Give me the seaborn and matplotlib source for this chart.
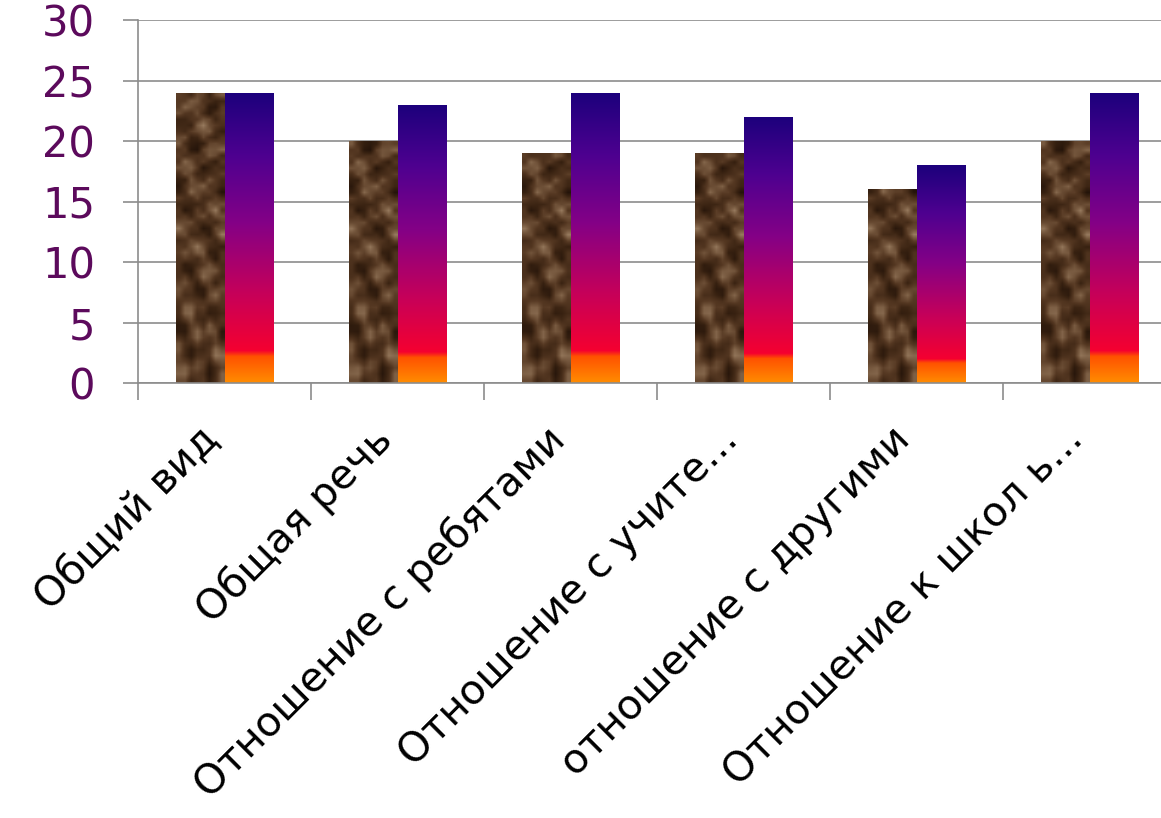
import numpy as np
import pandas as pd
import matplotlib
matplotlib.use("Agg")
import matplotlib.pyplot as plt
import seaborn as sns
from matplotlib.colors import LinearSegmentedColormap
from matplotlib.transforms import ScaledTranslation

categories = ["Общий вид", "Общая речь", "Отношение с ребятами",
              "Отношение с учите...", "отношение с другими", "Отношение к школ ь..."]
series_a = [24, 20, 19, 19, 16, 20]
series_b = [24, 23, 24, 22, 18, 24]

df = pd.DataFrame({
    "cat": categories * 2,
    "val": series_a + series_b,
    "grp": ["a"] * len(categories) + ["b"] * len(categories),
})

sns.set_style("white")
plt.rcParams["font.family"] = ["DejaVu Sans"]

fig = plt.figure(figsize=(11.61, 8.18), dpi=100)
ax = fig.add_axes([138 / 1161, (818 - 383) / 818, 1023 / 1161, 363 / 818])

sns.barplot(data=df, x="cat", y="val", hue="grp", palette=["#5a3a22", "#7a0088"],
            width=0.56, legend=False, ax=ax, errorbar=None, saturation=1)

# textures: brown mottle and orange->red->purple->blue fill
brown = LinearSegmentedColormap.from_list("brown", ["#24140a", "#3a2312", "#553822", "#77593f", "#977a5e"])
grad = LinearSegmentedColormap.from_list("grad", [
    (0.0, "#ff8c00"), (0.09, "#ff5200"), (0.11, "#f50030"),
    (0.3, "#c80058"), (0.55, "#840086"), (0.78, "#4e0090"), (1.0, "#1c007c")])

yy, xx = np.mgrid[0:48, 0:8]
mottle = (np.sin(xx * 0.9 + yy * 0.55) + np.sin(yy * 1.3 - xx * 0.7 + 0.4)
          + 0.7 * np.sin(xx * 2.1 + yy * yy * 0.043) + 0.6 * np.cos(yy * 0.29 + xx * 1.7)
          + 0.4 * np.sin(xx * yy * 0.31))
mottle = (mottle - mottle.min()) / (mottle.max() - mottle.min())
ramp = np.linspace(0, 1, 256).reshape(-1, 1)

n = len(categories)
for i, p in enumerate(ax.patches[:2 * n]):
    x0, y0 = p.get_x(), p.get_y()
    w, h = p.get_width(), p.get_height()
    if i < n:
        im = ax.imshow(mottle[: max(8, int(h * 2))], cmap=brown,
                       extent=[x0, x0 + w, y0, y0 + h],
                       origin="lower", aspect="auto", interpolation="bilinear", zorder=2)
    else:
        im = ax.imshow(ramp, cmap=grad, extent=[x0, x0 + w, y0, y0 + h],
                       origin="lower", aspect="auto", interpolation="bilinear", zorder=2)
    im.set_clip_path(p)
    p.set_facecolor("none")
    p.set_edgecolor("none")

ax.set_yticks(range(0, 31, 5))
ax.yaxis.grid(True, color="#8c8c8c", linewidth=1.2)
ax.set_axisbelow(True)
for s in ["top", "right"]:
    ax.spines[s].set_visible(False)
ax.spines["left"].set_color("#8c8c8c")
ax.spines["bottom"].set_color("#8c8c8c")
ax.spines["left"].set_linewidth(1.2)
ax.spines["bottom"].set_linewidth(1.2)

ax.tick_params(axis="y", length=11, width=1.2, color="#8c8c8c", labelsize=30,
               labelcolor="#5c0a5c", pad=20, left=True)
ax.set_xticks(np.arange(-0.5, n, 1.0), minor=True)
ax.tick_params(axis="x", which="minor", length=12, width=1.2, color="#8c8c8c", bottom=True)
ax.tick_params(axis="x", which="major", length=0, pad=26)
ax.set_xticks(range(n))
ax.set_xticklabels(categories, rotation=45, ha="right", rotation_mode="anchor",
                   fontsize=29.5, color="black")
ax.set_xlabel("")
ax.set_ylabel("")

# limits last so tick setting does not widen the view
ax.set_xlim(-0.5, -0.5 + 1023 / 173)
ax.set_ylim(0, 30)

shift = ScaledTranslation(-0.26, 0, fig.dpi_scale_trans)
for lbl in ax.get_xticklabels():
    lbl.set_transform(lbl.get_transform() + shift)

fig.savefig("out.png", dpi=100)
